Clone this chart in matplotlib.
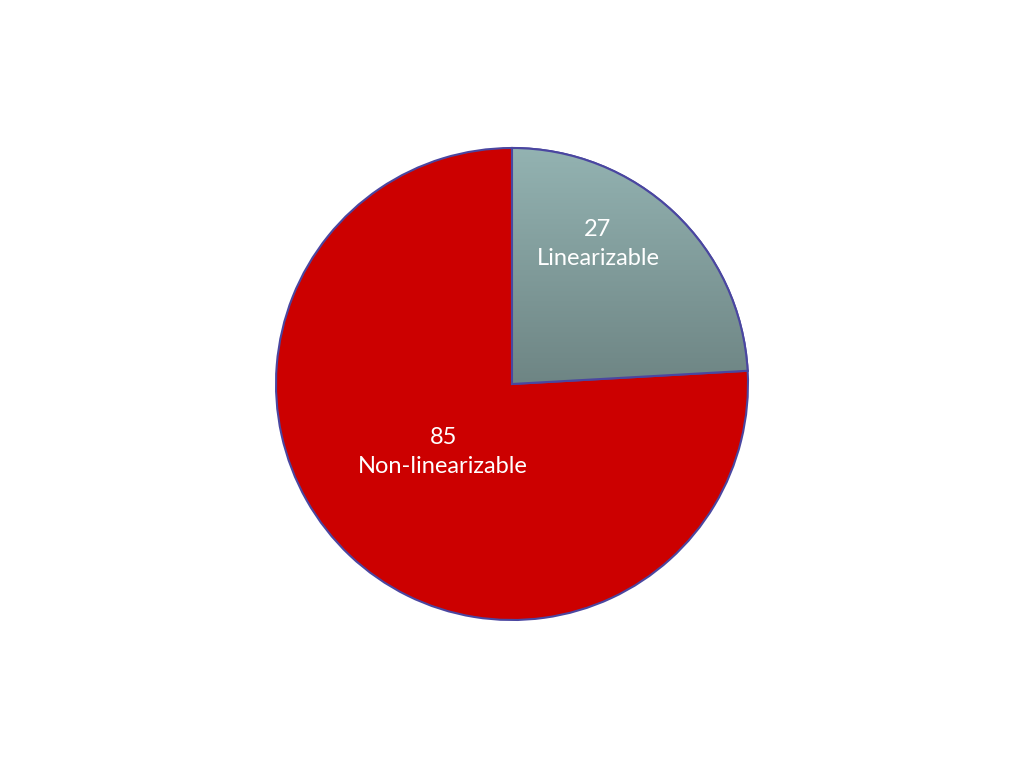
import numpy as np
import matplotlib
matplotlib.use("Agg")
import matplotlib.pyplot as plt
from matplotlib.patches import Wedge
from matplotlib.colors import LinearSegmentedColormap

labels = ["Linearizable", "Non-linearizable"]
counts = [27, 85]
colors = ["#809d9c", "#cc0000"]
edge = "#4a46a0"

fig = plt.figure(figsize=(10.24, 7.68), dpi=100)
ax = fig.add_axes([0, 0, 1, 1])

wedges, _ = ax.pie(counts, colors=colors, startangle=90, counterclock=False,
                   radius=1.0, wedgeprops=dict(edgecolor=edge, linewidth=1.5))

# soft top-to-bottom gradient on the grey slice
grey = wedges[0]
cmap = LinearSegmentedColormap.from_list("g", ["#6e8584", "#95b5b4"])
grad = np.linspace(0, 1, 256).reshape(-1, 1)
img = ax.imshow(grad, cmap=cmap, extent=(0, 1.05, 0, 1.05), origin="lower",
                aspect="auto", zorder=grey.get_zorder() + 0.1)
img.set_clip_path(grey)
ax.add_patch(Wedge(grey.center, grey.r, grey.theta1, grey.theta2,
                   facecolor="none", edgecolor=edge, linewidth=1.5,
                   zorder=grey.get_zorder() + 0.2))

# pie radius ~236 px, centred in the figure
ax.set_xlim(-512 / 236, 512 / 236)
ax.set_ylim(-384 / 236, 384 / 236)
ax.set_aspect("equal", adjustable="datalim")
ax.axis("off")

font = ["Lato", "DejaVu Sans"]
ax.text(0.364, 0.593, f"{counts[0]}\n{labels[0]}", ha="center", va="center",
        color="white", fontsize=17, family=font, linespacing=1.5, zorder=5)
ax.text(-0.292, -0.288, f"{counts[1]}\n{labels[1]}", ha="center", va="center",
        color="white", fontsize=17, family=font, linespacing=1.5, zorder=5)

fig.savefig("out.png", dpi=100)
